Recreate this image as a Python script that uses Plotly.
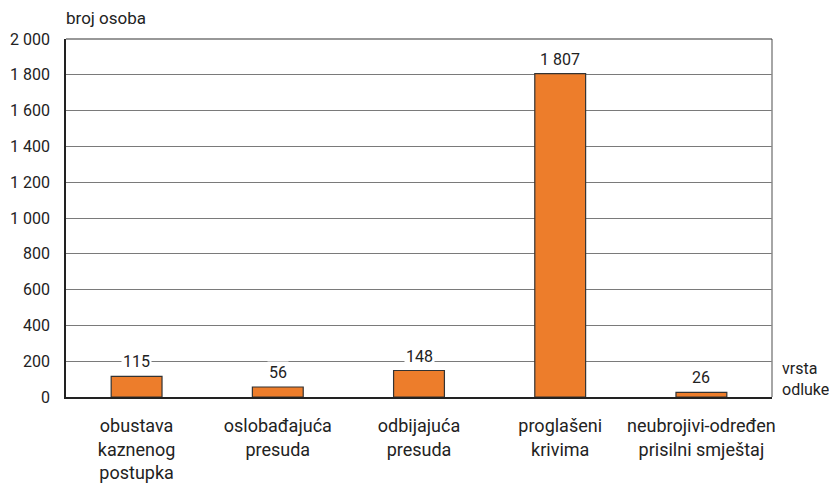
import plotly.graph_objects as go

categories = ["obustava<br>kaznenog<br>postupka", "oslobađajuća<br>presuda", "odbijajuća<br>presuda",
              "proglašeni<br>krivima", "neubrojivi-određen<br>prisilni smještaj"]
values = [115, 56, 148, 1807, 26]
value_labels = ["115", "56", "148", "1 807", "26"]
y_ticks = [0, 200, 400, 600, 800, 1000, 1200, 1400, 1600, 1800, 2000]
y_tick_labels = ["0", "200", "400", "600", "800", "1 000", "1 200", "1 400", "1 600", "1 800", "2 000"]

FONT = "Roboto, sans-serif"

fig = go.Figure()
fig.add_trace(go.Bar(
    x=list(range(len(categories))), y=values,
    marker=dict(color="#ED7D2B", line=dict(color="#333333", width=1.2)),
    width=0.36,
))

for i, (v, t) in enumerate(zip(values, value_labels)):
    fig.add_annotation(x=i, y=v, text=t, showarrow=False, yanchor="bottom", yshift=3,
                       font=dict(family=FONT, size=16, color="#222"), bgcolor="white",
                       borderpad=1)

fig.add_annotation(xref="paper", yref="paper", x=0, y=1.025, xanchor="left", yanchor="bottom",
                   xshift=-2, text="broj osoba", showarrow=False,
                   font=dict(family=FONT, size=17, color="#222"))
fig.add_annotation(xref="paper", yref="paper", x=1.0, y=0.0, xanchor="left", yanchor="bottom",
                   xshift=8, yshift=-4, text="vrsta<br>odluke", showarrow=False, align="left",
                   font=dict(family=FONT, size=16, color="#222"))

fig.update_layout(
    width=829, height=475,
    margin=dict(l=58, r=65, t=31, b=86, autoexpand=False),
    paper_bgcolor="white", plot_bgcolor="white",
    showlegend=False,
    font=dict(family=FONT, size=17, color="#222"),
    xaxis=dict(tickvals=list(range(len(categories))), ticktext=categories, range=[-0.5, 4.5],
               showline=True, linecolor="#222", linewidth=1.5, mirror=False, showgrid=False,
               automargin=False,
               ticks="", ticklabelstandoff=12, tickfont=dict(family=FONT, size=18, color="#222")),
    yaxis=dict(tickvals=y_ticks, ticktext=y_tick_labels, range=[0, 2000],
               showline=True, linecolor="#222", linewidth=1.5, showgrid=True,
               gridcolor="#7a7a7a", gridwidth=1, zeroline=False, ticks="", automargin=False,
               ticklabelstandoff=11, tickfont=dict(family=FONT, size=16, color="#222")),
)
fig.add_shape(type="line", xref="paper", yref="paper", x0=1, x1=1, y0=0, y1=1,
              line=dict(color="#888", width=1.5))
fig.add_shape(type="line", xref="paper", yref="paper", x0=0, x1=1, y0=1, y1=1,
              line=dict(color="#333", width=1.2))

fig.write_html("out.html")
